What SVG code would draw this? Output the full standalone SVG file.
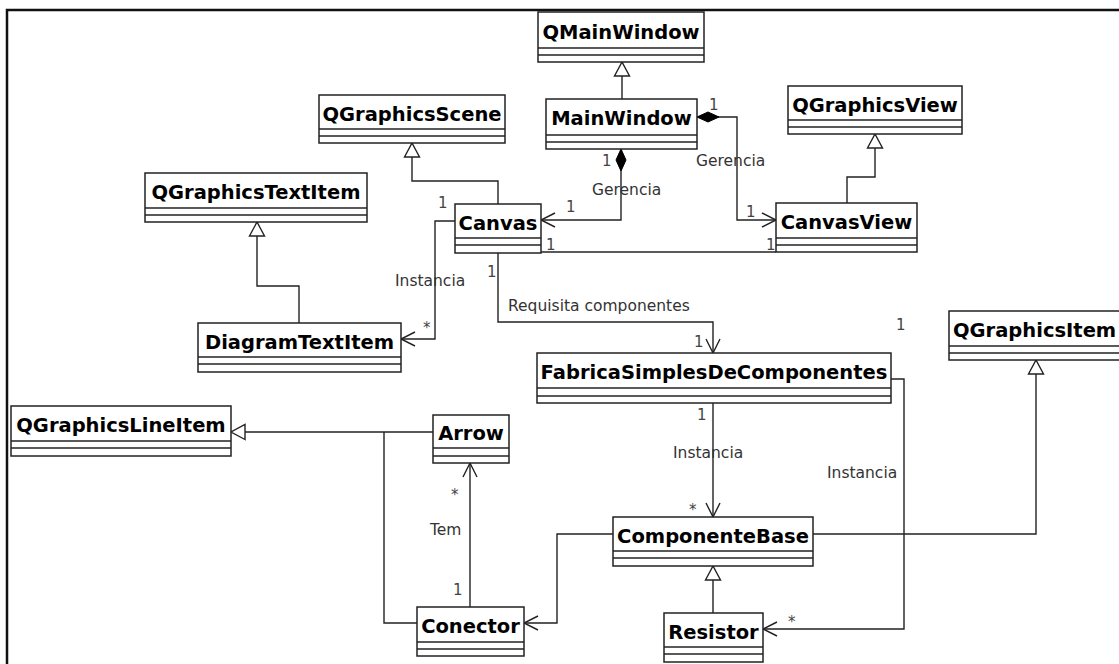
<svg xmlns="http://www.w3.org/2000/svg" width="1119" height="664" viewBox="0 0 1119 664">
<style>
.box{fill:#fff;stroke:#222;stroke-width:1.5}
.sep{stroke:#222;stroke-width:1.3}
.name{font-family:"DejaVu Sans",Verdana,sans-serif;font-weight:bold;font-size:19.5px;fill:#000;text-anchor:middle}
.lbl{font-family:"DejaVu Sans",Tahoma,sans-serif;font-size:15.5px;fill:#333}
.mul{font-family:"DejaVu Sans",Tahoma,sans-serif;font-size:15px;fill:#444}
.conn path{fill:none;stroke:#222;stroke-width:1.4}
</style>
<defs>
<marker id="open" markerUnits="userSpaceOnUse" markerWidth="16" markerHeight="16" viewBox="-1 -1 16 16" refX="14" refY="7" orient="auto" overflow="visible">
<path d="M0,0 L14,7 L0,14" fill="none" stroke="#222" stroke-width="1.4"/>
</marker>
<marker id="tri" markerUnits="userSpaceOnUse" markerWidth="16" markerHeight="17" viewBox="-1 -1 16 17" refX="14" refY="7.5" orient="auto" overflow="visible">
<path d="M0,0 L14,7.5 L0,15 Z" fill="#fff" stroke="#222" stroke-width="1.4"/>
</marker>
<marker id="dia" markerUnits="userSpaceOnUse" markerWidth="24" markerHeight="12" viewBox="-1 -1 24 12" refX="0" refY="5" orient="auto" overflow="visible">
<path d="M0,5 L11,0 L22,5 L11,10 Z" fill="#000" stroke="#000" stroke-width="1"/>
</marker>
</defs>
<rect width="1119" height="664" fill="#fff"/>
<path d="M7,664 V10 H1119" fill="none" stroke="#111" stroke-width="2.5"/>

<g class="conn" id="connectors">
<path d="M622,99 V62" marker-end="url(#tri)"/>
<path d="M498,204 V181 H412 V143" marker-end="url(#tri)"/>
<path d="M847,203 V177 H875 V134" marker-end="url(#tri)"/>
<path d="M299,323 V286 H257 V222" marker-end="url(#tri)"/>
<path d="M621,149 V220 H541" marker-start="url(#dia)" marker-end="url(#open)"/>
<path d="M697,117 H737 V220 H776" marker-start="url(#dia)" marker-end="url(#open)"/>
<path d="M541,252 H776"/>
<path d="M455,221 H435 V339 H401" marker-end="url(#open)"/>
<path d="M498,253 V322 H713 V353" marker-end="url(#open)"/>
<path d="M713,403 V517" marker-end="url(#open)"/>
<path d="M891,379 H904 V629 H763" marker-end="url(#open)"/>
<path d="M813,534 H1036 V360" marker-end="url(#tri)"/>
<path d="M713,613 V566" marker-end="url(#tri)"/>
<path d="M613,534 H557 V623 H524" marker-end="url(#open)"/>
<path d="M470,607 V463" marker-end="url(#open)"/>
<path d="M433,432 H231" marker-end="url(#tri)"/>
<path d="M417,623 H384 V432"/>
</g>

<g id="labels">
<text class="mul" x="709" y="110">1</text>
<text class="lbl" x="696" y="166">Gerencia</text>
<text class="mul" x="602" y="166">1</text>
<text class="lbl" x="592" y="195">Gerencia</text>
<text class="mul" x="566" y="212">1</text>
<text class="mul" x="438" y="208">1</text>
<text class="mul" x="746" y="217">1</text>
<text class="mul" x="546" y="250">1</text>
<text class="mul" x="766" y="250">1</text>
<text class="lbl" x="395" y="286">Instancia</text>
<text class="mul" x="423" y="333">*</text>
<text class="mul" x="487" y="277">1</text>
<text class="lbl" x="508" y="311">Requisita componentes</text>
<text class="mul" x="694" y="347">1</text>
<text class="mul" x="896" y="330">1</text>
<text class="mul" x="697" y="420">1</text>
<text class="lbl" x="673" y="458">Instancia</text>
<text class="mul" x="689" y="515">*</text>
<text class="lbl" x="827" y="478">Instancia</text>
<text class="mul" x="788" y="627">*</text>
<text class="mul" x="451" y="500">*</text>
<text class="lbl" x="430" y="535">Tem</text>
<text class="mul" x="453" y="595">1</text>
</g>

<g id="QMainWindow"><rect class="box" x="538" y="12" width="166" height="50"/><line class="sep" x1="538" y1="48" x2="704" y2="48"/><line class="sep" x1="538" y1="55" x2="704" y2="55"/><text class="name" x="621" y="39">QMainWindow</text></g>
<g id="MainWindow"><rect class="box" x="546" y="99" width="151" height="50"/><line class="sep" x1="546" y1="135" x2="697" y2="135"/><line class="sep" x1="546" y1="142" x2="697" y2="142"/><text class="name" x="621.5" y="125">MainWindow</text></g>
<g id="QGraphicsScene"><rect class="box" x="319" y="95" width="186" height="48"/><line class="sep" x1="319" y1="129" x2="505" y2="129"/><line class="sep" x1="319" y1="136" x2="505" y2="136"/><text class="name" x="412" y="121">QGraphicsScene</text></g>
<g id="QGraphicsView"><rect class="box" x="788" y="86" width="174" height="48"/><line class="sep" x1="788" y1="120" x2="962" y2="120"/><line class="sep" x1="788" y1="127" x2="962" y2="127"/><text class="name" x="875" y="112">QGraphicsView</text></g>
<g id="QGraphicsTextItem"><rect class="box" x="145" y="173" width="222" height="49"/><line class="sep" x1="145" y1="208" x2="367" y2="208"/><line class="sep" x1="145" y1="215" x2="367" y2="215"/><text class="name" x="256" y="199">QGraphicsTextItem</text></g>
<g id="Canvas"><rect class="box" x="455" y="204" width="86" height="49"/><line class="sep" x1="455" y1="238" x2="541" y2="238"/><line class="sep" x1="455" y1="245" x2="541" y2="245"/><text class="name" x="498" y="230">Canvas</text></g>
<g id="CanvasView"><rect class="box" x="776" y="203" width="141" height="49"/><line class="sep" x1="776" y1="238" x2="917" y2="238"/><line class="sep" x1="776" y1="245" x2="917" y2="245"/><text class="name" x="846.5" y="229">CanvasView</text></g>
<g id="DiagramTextItem"><rect class="box" x="198" y="323" width="203" height="49"/><line class="sep" x1="198" y1="357" x2="401" y2="357"/><line class="sep" x1="198" y1="364" x2="401" y2="364"/><text class="name" x="299.5" y="349">DiagramTextItem</text></g>
<g id="FabricaSimplesDeComponentes"><rect class="box" x="537" y="353" width="354" height="50"/><line class="sep" x1="537" y1="388" x2="891" y2="388"/><line class="sep" x1="537" y1="396" x2="891" y2="396"/><text class="name" x="714" y="379">FabricaSimplesDeComponentes</text></g>
<g id="QGraphicsItem"><rect class="box" x="949" y="311" width="200" height="49"/><line class="sep" x1="949" y1="346" x2="1119" y2="346"/><line class="sep" x1="949" y1="353" x2="1119" y2="353"/><text class="name" x="953" y="337" style="text-anchor:start">QGraphicsItem</text></g>
<g id="QGraphicsLineItem"><rect class="box" x="11" y="406" width="220" height="50"/><line class="sep" x1="11" y1="441" x2="231" y2="441"/><line class="sep" x1="11" y1="448" x2="231" y2="448"/><text class="name" x="121" y="432">QGraphicsLineItem</text></g>
<g id="Arrow"><rect class="box" x="433" y="415" width="76" height="48"/><line class="sep" x1="433" y1="448" x2="509" y2="448"/><line class="sep" x1="433" y1="456" x2="509" y2="456"/><text class="name" x="471" y="440">Arrow</text></g>
<g id="ComponenteBase"><rect class="box" x="613" y="517" width="200" height="49"/><line class="sep" x1="613" y1="551" x2="813" y2="551"/><line class="sep" x1="613" y1="558" x2="813" y2="558"/><text class="name" x="713" y="543">ComponenteBase</text></g>
<g id="Conector"><rect class="box" x="417" y="607" width="107" height="49"/><line class="sep" x1="417" y1="642" x2="524" y2="642"/><line class="sep" x1="417" y1="649" x2="524" y2="649"/><text class="name" x="470.5" y="633">Conector</text></g>
<g id="Resistor"><rect class="box" x="664" y="613" width="99" height="49"/><line class="sep" x1="664" y1="647" x2="763" y2="647"/><line class="sep" x1="664" y1="654" x2="763" y2="654"/><text class="name" x="713.5" y="639">Resistor</text></g>
</svg>
